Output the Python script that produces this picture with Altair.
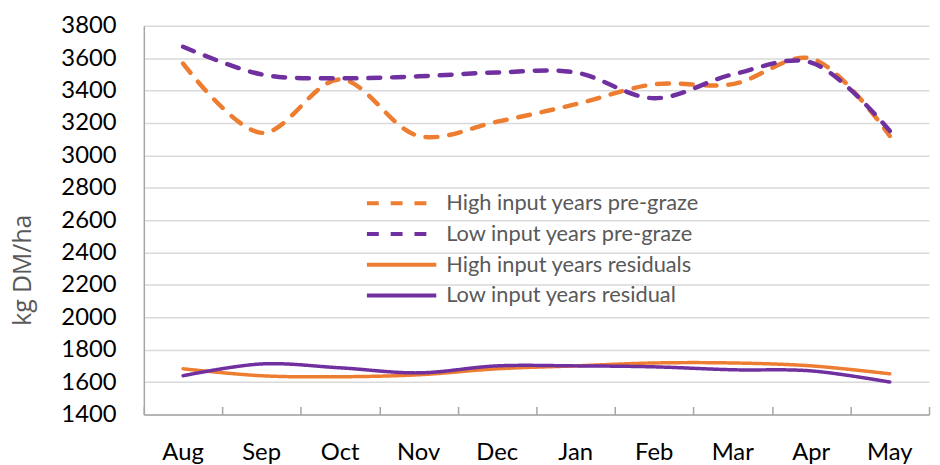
import altair as alt
import pandas as pd

months = ["Aug", "Sep", "Oct", "Nov", "Dec", "Jan", "Feb", "Mar", "Apr", "May"]
high_pre = [3567, 3139, 3469, 3120, 3208, 3316, 3439, 3440, 3598, 3120]
low_pre = [3671, 3500, 3476, 3488, 3512, 3512, 3353, 3500, 3573, 3151]
high_res = [1682, 1639, 1633, 1645, 1682, 1700, 1718, 1718, 1700, 1651]
low_res = [1639, 1712, 1688, 1657, 1700, 1700, 1694, 1676, 1669, 1600]

series_names = [
    "High input years pre-graze",
    "Low input years pre-graze",
    "High input years residuals",
    "Low input years residual",
]
series_values = [high_pre, low_pre, high_res, low_res]
colors = ["#ED7D31", "#7030A0", "#ED7D31", "#7030A0"]
dashes = [[12, 12], [12, 12], [1, 0], [1, 0]]
y_ticks = list(range(1400, 3801, 200))

rows = []
for name, vals in zip(series_names, series_values):
    for m, v in zip(months, vals):
        rows.append({"month": m, "value": v, "series": name})
df = pd.DataFrame(rows)

FONT = "Lato"
PLOT_W, PLOT_H = 792, 392

x_main = alt.X(
    "month:N",
    sort=months,
    scale=alt.Scale(type="band", paddingInner=0, paddingOuter=0),
    axis=alt.Axis(
        title=None, labelAngle=0, labelFontSize=24, labelColor="#000000",
        labelPadding=26, ticks=False, domainColor="#a6a6a6", domainWidth=1.5,
        grid=False,
    ),
)
y_axis = alt.Axis(
    title="kg DM/ha", values=y_ticks, format="d", labelFontSize=24, labelColor="#000000",
    labelPadding=28, ticks=False, domainColor="#a6a6a6", domainWidth=1.5,
    gridColor="#d9d9d9", gridWidth=1.5,
    titleFont="Open Sans", titleFontSize=25, titleColor="#595959", titleFontWeight="normal",
    titleAngle=270, titleX=-122, titleY=246, titleAlign="center",
    titleBaseline="middle",
)
y_scale = alt.Scale(domain=[1400, 3800], nice=False, zero=False)
y_main = alt.Y("value:Q", scale=y_scale, axis=y_axis)

legend = alt.Legend(
    title=None, orient="none", legendX=249, legendY=168,
    symbolType="M-7,0H7", symbolSize=100, symbolStrokeWidth=4,
    labelFontSize=22, labelColor="#595959", labelOffset=34,
    labelLimit=500, rowPadding=9, padding=0,
)
color_enc = alt.Color("series:N", scale=alt.Scale(domain=series_names, range=colors), legend=legend)
dash_enc = alt.StrokeDash("series:N", scale=alt.Scale(domain=series_names, range=dashes), legend=legend)

dashed = alt.Chart(df).transform_filter(
    alt.FieldOneOfPredicate(field="series", oneOf=series_names[:2])
).mark_line(interpolate="catmull-rom", strokeWidth=4.5, strokeCap="round").encode(
    x=x_main, y=y_main, color=color_enc, strokeDash=dash_enc,
)
solid = alt.Chart(df).transform_filter(
    alt.FieldOneOfPredicate(field="series", oneOf=series_names[2:])
).mark_line(interpolate="catmull-rom", strokeWidth=3.5, strokeCap="round").encode(
    x=x_main, y=y_main, color=color_enc, strokeDash=dash_enc,
)

ticks = alt.Chart(df).mark_line(opacity=0).encode(
    x=alt.X(
        "month:N", sort=months,
        scale=alt.Scale(type="band", paddingInner=0, paddingOuter=0),
        axis=alt.Axis(
            orient="top", offset=-PLOT_H, title=None, labels=False, domain=False,
            ticks=True, tickSize=8, tickColor="#a6a6a6", tickWidth=1.5,
            tickBand="extent", grid=False,
        ),
    ),
    y=y_main,
    detail="series:N",
)

chart = alt.layer(
    alt.layer(dashed, solid), ticks
).resolve_scale(x="independent").properties(
    width=PLOT_W, height=PLOT_H,
    autosize=alt.AutoSizeParams(type="none"),
    padding={"left": 137, "top": 16, "right": 3, "bottom": 49},
).configure(font=FONT).configure_view(stroke=None)

chart.save("out.html", embed_options={"renderer": "svg", "actions": False})
